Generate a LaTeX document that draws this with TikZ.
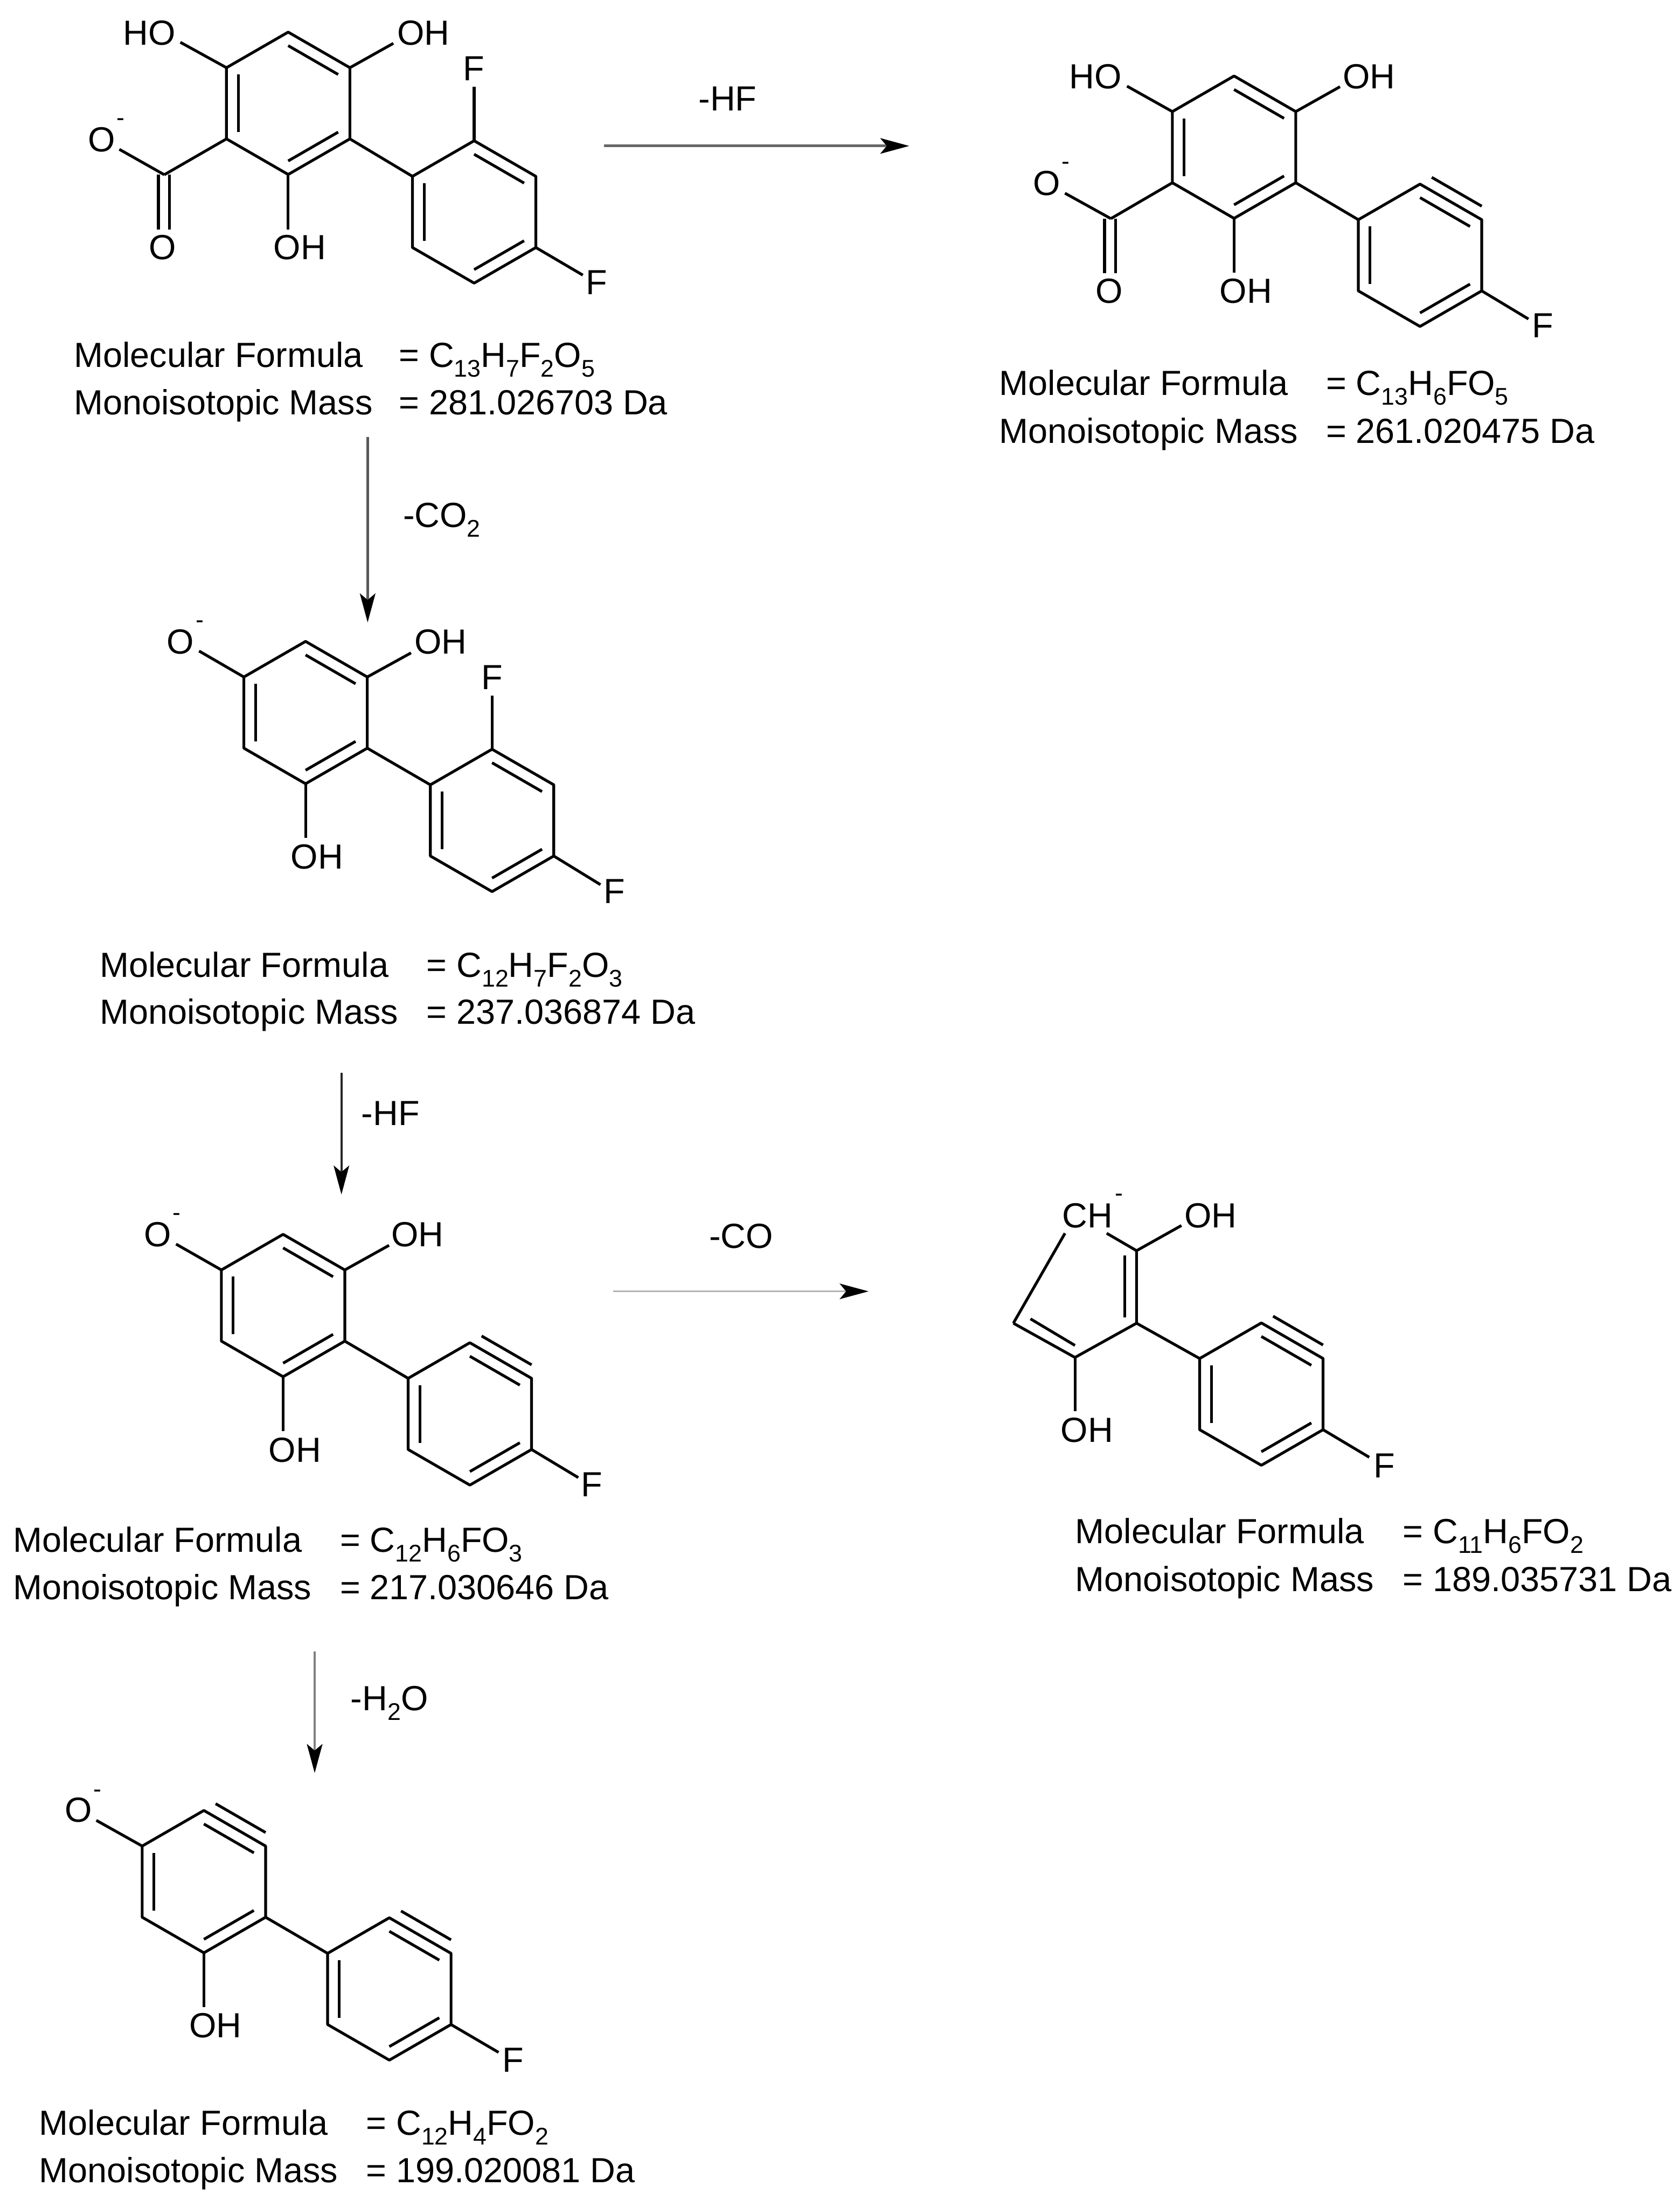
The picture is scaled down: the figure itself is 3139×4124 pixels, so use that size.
\documentclass[tikz,border=0pt]{standalone}
\usepackage{fontspec}
\setmainfont{Liberation Sans}
\usetikzlibrary{calc,arrows.meta}
\tikzset{
  bond/.style={line width=2.6pt,draw=black,line join=round},
  lab/.style={anchor=base west,inner sep=0pt,font=\fontsize{32.6}{40}\selectfont,text=black},
  chg/.style={anchor=base,inner sep=0pt,font=\fontsize{22.5}{26}\selectfont,text=black},
  rxn/.style={-{Stealth[length=27pt,width=14.5pt,inset=6pt,color=black]}}
}
\newcommand\sbx[1]{\raisebox{-9pt}{\fontsize{22.5}{26}\selectfont #1}}
\newcommand\innerbond[3]{\draw[bond] ($(#1#2)!0.19!(#1c)$) -- ($(#1#3)!0.19!(#1c)$);}
\newcommand\outerbond[3]{\draw[bond] ($(#1#2)+0.19*(#1#3)-0.19*(#1c)$) -- ($(#1#3)+0.19*(#1#2)-0.19*(#1c)$);}
\newcommand\ringat[3]{%
  \coordinate (#1c) at (#2,#3);
  \coordinate (#11) at (#2,#3-133);
  \coordinate (#12) at (#2+115.3,#3-66.5);
  \coordinate (#13) at (#2+115.3,#3+66.5);
  \coordinate (#14) at (#2,#3+133);
  \coordinate (#15) at (#2-115.3,#3+66.5);
  \coordinate (#16) at (#2-115.3,#3-66.5);
  \draw[bond] (#11)--(#12)--(#13)--(#14)--(#15)--(#16)--cycle;
  \innerbond{#1}{1}{2}\innerbond{#1}{3}{4}\innerbond{#1}{5}{6}}
% name, x, baseline y, text, bond end x, bond end y, atom the bond starts at
\newcommand\atomlab[7]{%
  \node[lab] (#1) at (#2,#3) {#4};
  \coordinate (#1e) at (#5,#6);
  \draw[bond] (#7) -- (#1e);}
% name, x, x of equals sign, baseline 1, baseline 2, formula, mass
\newcommand\fblock[7]{%
  \node[lab] (#1a) at (#2,#4) {Molecular Formula};
  \node[lab] (#1b) at (#3,#4) {= #6};
  \node[lab] (#1c) at (#2,#5) {Monoisotopic Mass};
  \node[lab] (#1d) at (#3,#5) {= #7};}
\begin{document}
\begin{tikzpicture}[x=0.5pt,y=-0.5pt]
\path[fill=white,use as bounding box] (0,0) rectangle (3139,4124);

% Molecule 1
\ringat{a}{538.5}{193}
\ringat{b}{886}{396}
\draw[bond] (a3) -- (b6);
\coordinate (aC) at (307,326.5);
\draw[bond] (a5) -- (aC);
\coordinate (aD1) at (296,326.5); \coordinate (aD2) at (296,428.6);
\coordinate (aD3) at (317,326.5); \coordinate (aD4) at (317,428.6);
\draw[bond] (aD1) -- (aD2);
\draw[bond] (aD3) -- (aD4);
\node[lab] (aOd) at (278,485) {O};
\atomlab{aOm}{164}{283}{O}{223}{279}{aC}
\node[chg] (aCh) at (225,235) {-};
\atomlab{aHO}{230}{84}{HO}{337}{79}{a6}
\atomlab{aOH}{742}{84}{OH}{735}{81}{a2}
\atomlab{aOHb}{511}{485}{OH}{538.5}{428.6}{a4}
\atomlab{aF1}{865}{150.5}{F}{886}{162}{b1}
\atomlab{aF2}{1095}{550}{F}{1089}{514}{b3}
\fblock{af}{138}{745}{686}{774.5}{C\sbx{13}H\sbx{7}F\sbx{2}O\sbx{5}}{281.026703 Da}

% Molecule 2
\ringat{c}{2306}{275}
\ringat{d}{2653.5}{477}
\outerbond{d}{1}{2}
\draw[bond] (c3) -- (d6);
\coordinate (cC) at (2075.8,408.5);
\draw[bond] (c5) -- (cC);
\coordinate (cD1) at (2064,408.5); \coordinate (cD2) at (2064,510);
\coordinate (cD3) at (2085,408.5); \coordinate (cD4) at (2085,510);
\draw[bond] (cD1) -- (cD2);
\draw[bond] (cD3) -- (cD4);
\node[lab] (cOd) at (2047,566) {O};
\atomlab{cOm}{1930}{364.6}{O}{1990}{361}{cC}
\node[chg] (cCh) at (1991.6,317) {-};
\atomlab{cHO}{1998}{165.6}{HO}{2106}{161}{c6}
\atomlab{cOH}{2509}{165.6}{OH}{2504}{162}{c2}
\atomlab{cOHb}{2279}{566}{OH}{2306}{509}{c4}
\atomlab{cF}{2863}{631}{F}{2856}{596}{d3}
\fblock{cf}{1867}{2477.5}{738.6}{828}{C\sbx{13}H\sbx{6}FO\sbx{5}}{261.020475 Da}

% Molecule 3
\ringat{e}{571}{1331.5}
\ringat{f}{919.5}{1533}
\draw[bond] (e3) -- (f6);
\atomlab{eOm}{311}{1222}{O}{372}{1216.5}{e6}
\node[chg] (eCh) at (373.5,1173) {-};
\atomlab{eOH}{774}{1222}{OH}{768}{1220}{e2}
\atomlab{eOHb}{543}{1623}{OH}{571}{1566}{e4}
\atomlab{eF1}{899}{1288}{F}{919.5}{1299.5}{f1}
\atomlab{eF2}{1128}{1688}{F}{1122}{1653}{f3}
\fblock{ef}{186}{796.7}{1826}{1913}{C\sbx{12}H\sbx{7}F\sbx{2}O\sbx{3}}{237.036874 Da}

% Molecule 4
\ringat{g}{529}{2439.5}
\ringat{h}{878}{2642}
\outerbond{h}{1}{2}
\draw[bond] (g3) -- (h6);
\atomlab{gOm}{269}{2329}{O}{329}{2324.7}{g6}
\node[chg] (gCh) at (330.6,2281) {-};
\atomlab{gOH}{731}{2329}{OH}{727}{2327}{g2}
\atomlab{gOHb}{502}{2732}{OH}{529}{2674}{g4}
\atomlab{gF}{1085}{2796}{F}{1080.6}{2761}{h3}
\fblock{gf}{24}{635}{2900}{2988.6}{C\sbx{12}H\sbx{6}FO\sbx{3}}{217.030646 Da}

% Molecule 5 (five-membered open ring)
\ringat{j}{2357}{2605}
\outerbond{j}{1}{2}
\coordinate (k1) at (2123.8,2337);
\coordinate (k2) at (2123.8,2472.5);
\coordinate (k3) at (2008.7,2536.5);
\coordinate (k4) at (1893.6,2472.5);
\draw[bond] (k1) -- (k2) -- (k3) -- (k4);
\coordinate (k5) at (2101.6,2346); \coordinate (k6) at (2101.6,2461.6);
\coordinate (k7) at (1925.6,2464.4); \coordinate (k8) at (2008.7,2514);
\draw[bond] (k5) -- (k6);
\draw[bond] (k7) -- (k8);
\draw[bond] (k2) -- (j6);
\atomlab{kCH}{1985}{2293.6}{CH}{1990}{2304.5}{k4}
\coordinate (kCHr) at (2068,2304.5);
\draw[bond] (k1) -- (kCHr);
\node[chg] (kCh) at (2091,2245) {-};
\atomlab{kOH}{2213}{2293.6}{OH}{2207.6}{2290}{k1}
\atomlab{kOHb}{1982}{2694.7}{OH}{2008.7}{2636.7}{k3}
\atomlab{kF}{2567}{2761}{F}{2558.6}{2723}{j3}
\fblock{kf}{2009}{2621}{2884}{2974}{C\sbx{11}H\sbx{6}FO\sbx{2}}{189.035731 Da}

% Molecule 6
\ringat{m}{381}{3516}
\ringat{n}{727.5}{3716.5}
\outerbond{m}{1}{2}
\outerbond{n}{1}{2}
\draw[bond] (m3) -- (n6);
\atomlab{mOm}{121}{3404.5}{O}{180}{3401.5}{m6}
\node[chg] (mCh) at (182.4,3358) {-};
\atomlab{mOH}{353}{3807}{OH}{381}{3750}{m4}
\atomlab{mF}{938}{3871.8}{F}{931.6}{3835}{n3}
\fblock{mf}{73}{683.7}{3989.6}{4078}{C\sbx{12}H\sbx{4}FO\sbx{2}}{199.020081 Da}

% Reaction arrows
\coordinate (r1s) at (1129,272.7); \coordinate (r1e) at (1699,272.7);
\draw[rxn,line width=2.4pt,draw=black!60] (r1s) -- (r1e);
\node[lab] (r1l) at (1305,207) {-HF};
\coordinate (r2s) at (1146,2413); \coordinate (r2e) at (1623,2413);
\draw[rxn,line width=1.5pt,draw=black!30] (r2s) -- (r2e);
\node[lab] (r2l) at (1325,2332) {-CO};
\coordinate (r3s) at (687,817); \coordinate (r3e) at (687,1163);
\draw[rxn,line width=2.4pt,draw=black!65] (r3s) -- (r3e);
\node[lab] (r3l) at (753,985) {-CO\sbx{2}};
\coordinate (r4s) at (638,2005); \coordinate (r4e) at (638,2232);
\draw[rxn,line width=2pt,draw=black!85] (r4s) -- (r4e);
\node[lab] (r4l) at (675,2103) {-HF};
\coordinate (r5s) at (588,3086); \coordinate (r5e) at (588,3313);
\draw[rxn,line width=2.4pt,draw=black!50] (r5s) -- (r5e);
\node[lab] (r5l) at (655,3196) {-H\sbx{2}O};
\end{tikzpicture}
\end{document}
